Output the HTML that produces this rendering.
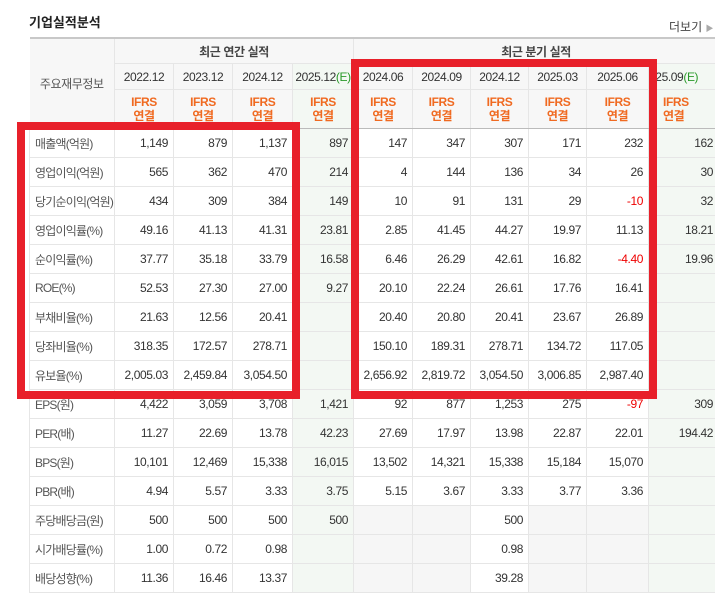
<!DOCTYPE html>
<html><head><meta charset="utf-8"><style>
body{margin:0;width:715px;height:593px;overflow:hidden;background:#fff;font-family:"Liberation Sans","Noto Sans CJK KR",sans-serif;position:relative}
.title{position:absolute;left:29px;top:12px;font-size:13px;font-weight:bold;color:#222}
.more{position:absolute;left:669px;top:18px;font-size:12px;color:#444}
table{position:absolute;left:29px;top:37px;width:689px;border-collapse:collapse;table-layout:fixed;font-size:12px;letter-spacing:-0.4px;color:#333}
td,th{border:1px solid #e6e6e6;padding:0 5px 0 0;white-space:nowrap;overflow:hidden}
table{border-top:2px solid #c8c8c8}
th{background:#f7f7f7;font-weight:normal;color:#333;padding:0;text-align:center}
.h1 th{height:24px;font-weight:bold;color:#444}
.h2 th{height:25px}
.h3 th{height:38px;color:#f06a21;font-weight:bold;line-height:14px;border-bottom:1px solid #bbb}
td{height:28px;text-align:right}
td.l{text-align:left;color:#555;background:#fff;padding-left:5px;letter-spacing:-0.8px}
.e{background:#f3f8f3}
.g{background:#f6f6f6}
.sep td{border-top:1px solid #b4b4b4}
.r{color:#e00}
.E{color:#2a9a2a}
.box{position:absolute;border:8px solid #e8202a}
</style></head><body>
<div class="title">기업실적분석</div>
<div class="more">더보기 <span style="color:#aaa;font-size:8px">▶</span></div>
<table>
<colgroup><col style="width:85px"><col style="width:59px"><col style="width:59px"><col style="width:60px"><col style="width:61px"><col style="width:59px"><col style="width:58px"><col style="width:58px"><col style="width:58px"><col style="width:62px"><col style="width:70px"></colgroup>
<tr class="h1"><th rowspan="3" style="border-left:none;font-weight:normal;color:#555;background:#f7f7f7">주요재무정보</th><th colspan="4">최근 연간 실적</th><th colspan="6">최근 분기 실적</th></tr>
<tr class="h2"><th>2022.12</th><th>2023.12</th><th>2024.12</th><th class="e">2025.12<span class="E">(E)</span></th><th>2024.06</th><th>2024.09</th><th>2024.12</th><th>2025.03</th><th>2025.06</th><th class="e" style="text-align:left">025.09<span class="E">(E)</span></th></tr>
<tr class="h3"><th>IFRS<br>연결</th><th>IFRS<br>연결</th><th>IFRS<br>연결</th><th class="e">IFRS<br>연결</th><th>IFRS<br>연결</th><th>IFRS<br>연결</th><th>IFRS<br>연결</th><th>IFRS<br>연결</th><th>IFRS<br>연결</th><th class="e" style="text-align:left;padding-left:14px">IFRS<br>연결</th></tr>
<tr><td class="l">매출액(억원)</td><td>1,149</td><td>879</td><td>1,137</td><td class="e">897</td><td>147</td><td>347</td><td>307</td><td>171</td><td>232</td><td class="e">162</td></tr>
<tr><td class="l">영업이익(억원)</td><td>565</td><td>362</td><td>470</td><td class="e">214</td><td>4</td><td>144</td><td>136</td><td>34</td><td>26</td><td class="e">30</td></tr>
<tr><td class="l">당기순이익(억원)</td><td>434</td><td>309</td><td>384</td><td class="e">149</td><td>10</td><td>91</td><td>131</td><td>29</td><td class="r">-10</td><td class="e">32</td></tr>
<tr class="sep"><td class="l">영업이익률(%)</td><td>49.16</td><td>41.13</td><td>41.31</td><td class="e">23.81</td><td>2.85</td><td>41.45</td><td>44.27</td><td>19.97</td><td>11.13</td><td class="e">18.21</td></tr>
<tr><td class="l">순이익률(%)</td><td>37.77</td><td>35.18</td><td>33.79</td><td class="e">16.58</td><td>6.46</td><td>26.29</td><td>42.61</td><td>16.82</td><td class="r">-4.40</td><td class="e">19.96</td></tr>
<tr><td class="l">ROE(%)</td><td>52.53</td><td>27.30</td><td>27.00</td><td class="e">9.27</td><td>20.10</td><td>22.24</td><td>26.61</td><td>17.76</td><td>16.41</td><td class="e"></td></tr>
<tr class="sep"><td class="l">부채비율(%)</td><td>21.63</td><td>12.56</td><td>20.41</td><td class="e"></td><td>20.40</td><td>20.80</td><td>20.41</td><td>23.67</td><td>26.89</td><td class="e"></td></tr>
<tr><td class="l">당좌비율(%)</td><td>318.35</td><td>172.57</td><td>278.71</td><td class="e"></td><td>150.10</td><td>189.31</td><td>278.71</td><td>134.72</td><td>117.05</td><td class="e"></td></tr>
<tr><td class="l">유보율(%)</td><td>2,005.03</td><td>2,459.84</td><td>3,054.50</td><td class="e"></td><td>2,656.92</td><td>2,819.72</td><td>3,054.50</td><td>3,006.85</td><td>2,987.40</td><td class="e"></td></tr>
<tr class="sep"><td class="l">EPS(원)</td><td>4,422</td><td>3,059</td><td>3,708</td><td class="e">1,421</td><td>92</td><td>877</td><td>1,253</td><td>275</td><td class="r">-97</td><td class="e">309</td></tr>
<tr><td class="l">PER(배)</td><td>11.27</td><td>22.69</td><td>13.78</td><td class="e">42.23</td><td>27.69</td><td>17.97</td><td>13.98</td><td>22.87</td><td>22.01</td><td class="e">194.42</td></tr>
<tr><td class="l">BPS(원)</td><td>10,101</td><td>12,469</td><td>15,338</td><td class="e">16,015</td><td>13,502</td><td>14,321</td><td>15,338</td><td>15,184</td><td>15,070</td><td class="e"></td></tr>
<tr><td class="l">PBR(배)</td><td>4.94</td><td>5.57</td><td>3.33</td><td class="e">3.75</td><td>5.15</td><td>3.67</td><td>3.33</td><td>3.77</td><td>3.36</td><td class="e"></td></tr>
<tr class="sep"><td class="l">주당배당금(원)</td><td>500</td><td>500</td><td>500</td><td class="e">500</td><td class="g"></td><td class="g"></td><td>500</td><td class="g"></td><td class="g"></td><td class="e"></td></tr>
<tr><td class="l">시가배당률(%)</td><td>1.00</td><td>0.72</td><td>0.98</td><td class="e"></td><td class="g"></td><td class="g"></td><td>0.98</td><td class="g"></td><td class="g"></td><td class="e"></td></tr>
<tr><td class="l">배당성향(%)</td><td>11.36</td><td>16.46</td><td>13.37</td><td class="e"></td><td class="g"></td><td class="g"></td><td>39.28</td><td class="g"></td><td class="g"></td><td class="e"></td></tr>
</table>
<div class="box" style="left:17px;top:122px;width:267px;height:261px"></div>
<div class="box" style="left:351px;top:59px;width:290px;height:324px"></div>
</body></html>
